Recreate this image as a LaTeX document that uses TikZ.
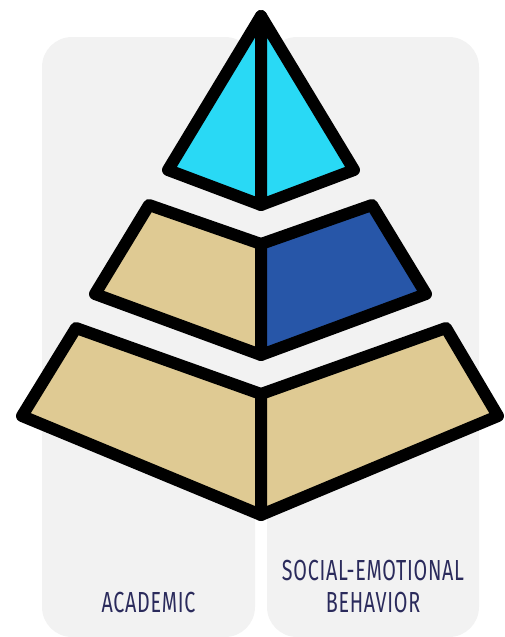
\documentclass[tikz,border=0pt]{standalone}
\usepackage{fontspec}
\setmainfont{Fira Sans}[FakeStretch=0.68, LetterSpace=2.5]
\usepackage{xcolor}
\usetikzlibrary{positioning}
\definecolor{panelgray}{HTML}{F2F2F2}
\definecolor{tipcyan}{HTML}{29D9F5}
\definecolor{tiertan}{HTML}{DFCA93}
\definecolor{tierblue}{HTML}{2756A8}
\definecolor{labelnavy}{HTML}{2B2B5C}
\tikzset{
  panel/.style = {fill=panelgray, draw=none, rounded corners=30pt},
  face/.style = {draw=black, line width=12pt, line join=round},
  panelname/.style = {text=labelnavy, align=center, inner sep=0pt, font=\fontsize{29}{32}\selectfont}
}
\begin{document}
\begin{tikzpicture}[x=1pt,y=-1pt]
  \useasboundingbox (0,0) rectangle (505,637);
  \fill[panel] (42,37) rectangle (255,637);
  \fill[panel] (267,37) rectangle (479,637);
  \fill[panelgray] (250,37) rectangle (272,515);

  \coordinate (tA) at (261,16);
  \coordinate (tL) at (168,170);
  \coordinate (tR) at (354,170);
  \coordinate (tB) at (261,205);

  \coordinate (mTL) at (149,205);
  \coordinate (mTC) at (261,244);
  \coordinate (mTR) at (372,205);
  \coordinate (mBR) at (426,294);
  \coordinate (mBC) at (261,355);
  \coordinate (mBL) at (95,294);

  \coordinate (bTL) at (76,328);
  \coordinate (bTC) at (261,394);
  \coordinate (bTR) at (446,328);
  \coordinate (bBR) at (498,416);
  \coordinate (bBC) at (261,515);
  \coordinate (bBL) at (22,416);

  \filldraw[face, fill=tipcyan] (tA) -- (tL) -- (tB) -- cycle;
  \filldraw[face, fill=tipcyan] (tA) -- (tR) -- (tB) -- cycle;
  \filldraw[face, fill=tiertan] (mTL) -- (mTC) -- (mBC) -- (mBL) -- cycle;
  \filldraw[face, fill=tierblue] (mTC) -- (mTR) -- (mBR) -- (mBC) -- cycle;
  \filldraw[face, fill=tiertan] (bTL) -- (bTC) -- (bBC) -- (bBL) -- cycle;
  \filldraw[face, fill=tiertan] (bTC) -- (bTR) -- (bBR) -- (bBC) -- cycle;

  \node[panelname, anchor=base] (academic) at (148.5,612) {ACADEMIC};
  \node[panelname, anchor=base] (behavior) at (373,612) {BEHAVIOR};
  \node[panelname, anchor=base] (social) at (373,580) {SOCIAL-EMOTIONAL};
\end{tikzpicture}
\end{document}
